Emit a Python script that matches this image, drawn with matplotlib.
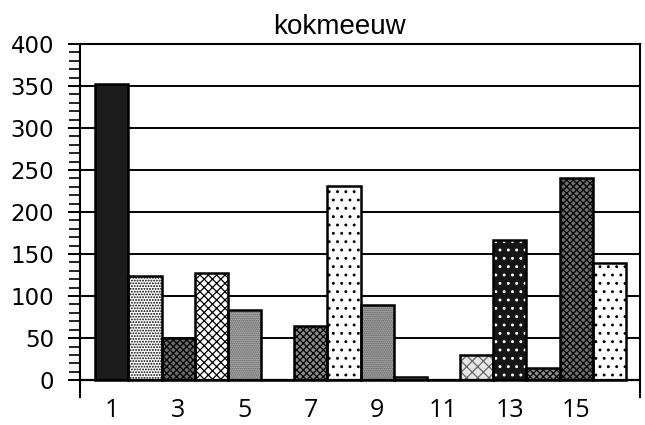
import matplotlib
matplotlib.use("Agg")
import matplotlib.pyplot as plt

#Data
title = "kokmeeuw"
positions = list(range(1, 17))
counts = [352, 124, 50, 127, 84, 0, 64, 231, 89, 4, 0, 30, 167, 15, 240, 139]
xticks = [1, 3, 5, 7, 9, 11, 13, 15]
yticks = [0, 50, 100, 150, 200, 250, 300, 350, 400]

#fill, hatch, hatch colour for every bar
fills = ["#1c1c1c", "white", "#6a6a6a", "white", "#b8b8b8", "white", "#8a8a8a", "white",
         "#b0b0b0", "white", "white", "#e6e6e6", "#161616", "#8a8a8a", "#6e6e6e", "white"]
hatches = ["", "......", "xxxxx", "xxxx", "........", "", "xxxxx", "..",
           "........", "", "", "xxx", "..", "xxxxx", "xxxxx", ".."]
hatchColors = ["black", "black", "black", "black", "#555555", "black", "black", "black",
               "#555555", "black", "black", "#666666", "white", "black", "black", "black"]

plt.rcParams["font.family"] = "DejaVu Sans"
plt.rcParams["hatch.linewidth"] = 0.9

fig = plt.figure(figsize=(6.45, 4.25), dpi=100)
ax = fig.add_axes([0.124, 0.066, 0.868, 0.8306])

#gridlines behind the bars
ax.set_axisbelow(True)
ax.yaxis.grid(True, color="black", linewidth=1.4)

#hatch layer first, then black outline on top
for i in range(len(positions)):
    ax.bar(positions[i], counts[i], width=1.0, color=fills[i], hatch=hatches[i],
           edgecolor=hatchColors[i], linewidth=0, zorder=2)
ax.bar(positions, counts, width=1.0, fill=False, edgecolor="black", linewidth=1.8, zorder=3)

ax.axhline(0, color="black", linewidth=1.6, zorder=4)

ax.set_xlim(0.04, 16.92)
ax.set_ylim(-20, 400)
ax.set_yticks(yticks)
ax.set_yticks(range(0, 401, 10), minor=True)
ax.set_xticks(xticks)
ax.tick_params(axis="y", which="major", direction="inout", length=17, width=1.4, labelsize=16.5, pad=10)
ax.tick_params(axis="y", which="minor", direction="out", length=8, width=1.2)
ax.tick_params(axis="x", length=0, labelsize=18, pad=1)
for lab in ax.get_xticklabels():
    lab.set_fontfamily("Open Sans")

ax.spines["bottom"].set_visible(False)
for s in ["left", "right", "top"]:
    ax.spines[s].set_linewidth(1.5)

fig.text(339 / 645, 1 - 34 / 425, title, ha="center", va="baseline", fontsize=20,
         fontfamily="Liberation Sans")

plt.savefig("out.png", dpi=100)
plt.close()
